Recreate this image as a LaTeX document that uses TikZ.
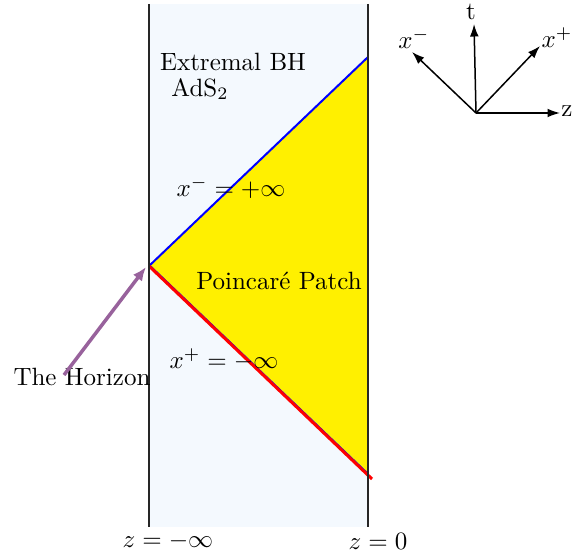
\documentclass[tikz,border=0pt]{standalone}
\usepackage{tikz}
\usetikzlibrary{arrows.meta, positioning}
\definecolor{stripblue}{RGB}{244,249,254}
\definecolor{patchyellow}{RGB}{255,240,0}
\definecolor{horizonpurple}{RGB}{152,98,156}

\begin{document}
\begin{tikzpicture}[
          x=0.01405cm, y=-0.01405cm,
          txt/.style={inner sep=1pt, font=\normalsize},
          axis/.style={-{Latex[length=5pt, width=3.5pt]}, semithick},
          edge/.style={draw=black!85, line width=0.5pt},
          arrow/.style={-{Latex[length=5.5pt, width=4.5pt]}, line width=1.4pt, draw=horizonpurple}
        ]
          \useasboundingbox (0,0) rectangle (573,554);

          % Strip of AdS2
          \fill[stripblue] (149,4) rectangle (368,527);

          % Poincare patch
          \coordinate (apex) at (149,266);
          \coordinate (top) at (368,57);
          \coordinate (bot) at (368,475);
          \coordinate (botx) at (372,479);
          \fill[patchyellow] (apex) -- (top) -- (bot) -- cycle;
          \draw[blue, line width=0.8pt] (apex) -- (top);
          \draw[blue, line width=0.8pt] ([yshift=0.4pt]apex) -- ([yshift=0.4pt]bot);
          \draw[red, line width=1.2pt] (apex) -- (botx);

          % Boundaries
          \draw[edge] (149,4) -- (149,527);
          \draw[edge] (368,4) -- (368,527);

          % Labels in the strip
          \node[txt] (ebh) at (233,62) {Extremal BH};
          \node[txt] (ads) at (200,89) {AdS$_2$};
          \node[txt] (xm) at (231,188) {$x^-=+\infty$};
          \node[txt] (pp) at (279,281) {Poincar\'e Patch};
          \node[txt] (xp) at (224,360) {$x^+=-\infty$};
          \node[txt] (zl) at (168,541) {$z=-\infty$};
          \node[txt] (zr) at (378,541) {$z=0$};

          % Horizon pointer
          \node[txt] (hor) at (82,377) {The Horizon};
          \coordinate (hstart) at (64,375);
          \draw[arrow] (hstart) -- (146,267);

          % Light cone axes
          \coordinate (o) at (476,113);
          \coordinate (tend) at (474,24);
          \coordinate (mend) at (412,52);
          \coordinate (pend) at (540,46);
          \coordinate (zend) at (560,113);
          \node[txt] (tl) at (471,12) {t};
          \node[txt] (ml) at (414,39) {$x^-$};
          \node[txt] (pl) at (557,38) {$x^+$};
          \node[txt] (zlab) at (567,111) {z};
          \draw[axis] (o) -- (tend);
          \draw[axis] (o) -- (mend);
          \draw[axis] (o) -- (pend);
          \draw[axis] (o) -- (zend);
        \end{tikzpicture}
\end{document}
